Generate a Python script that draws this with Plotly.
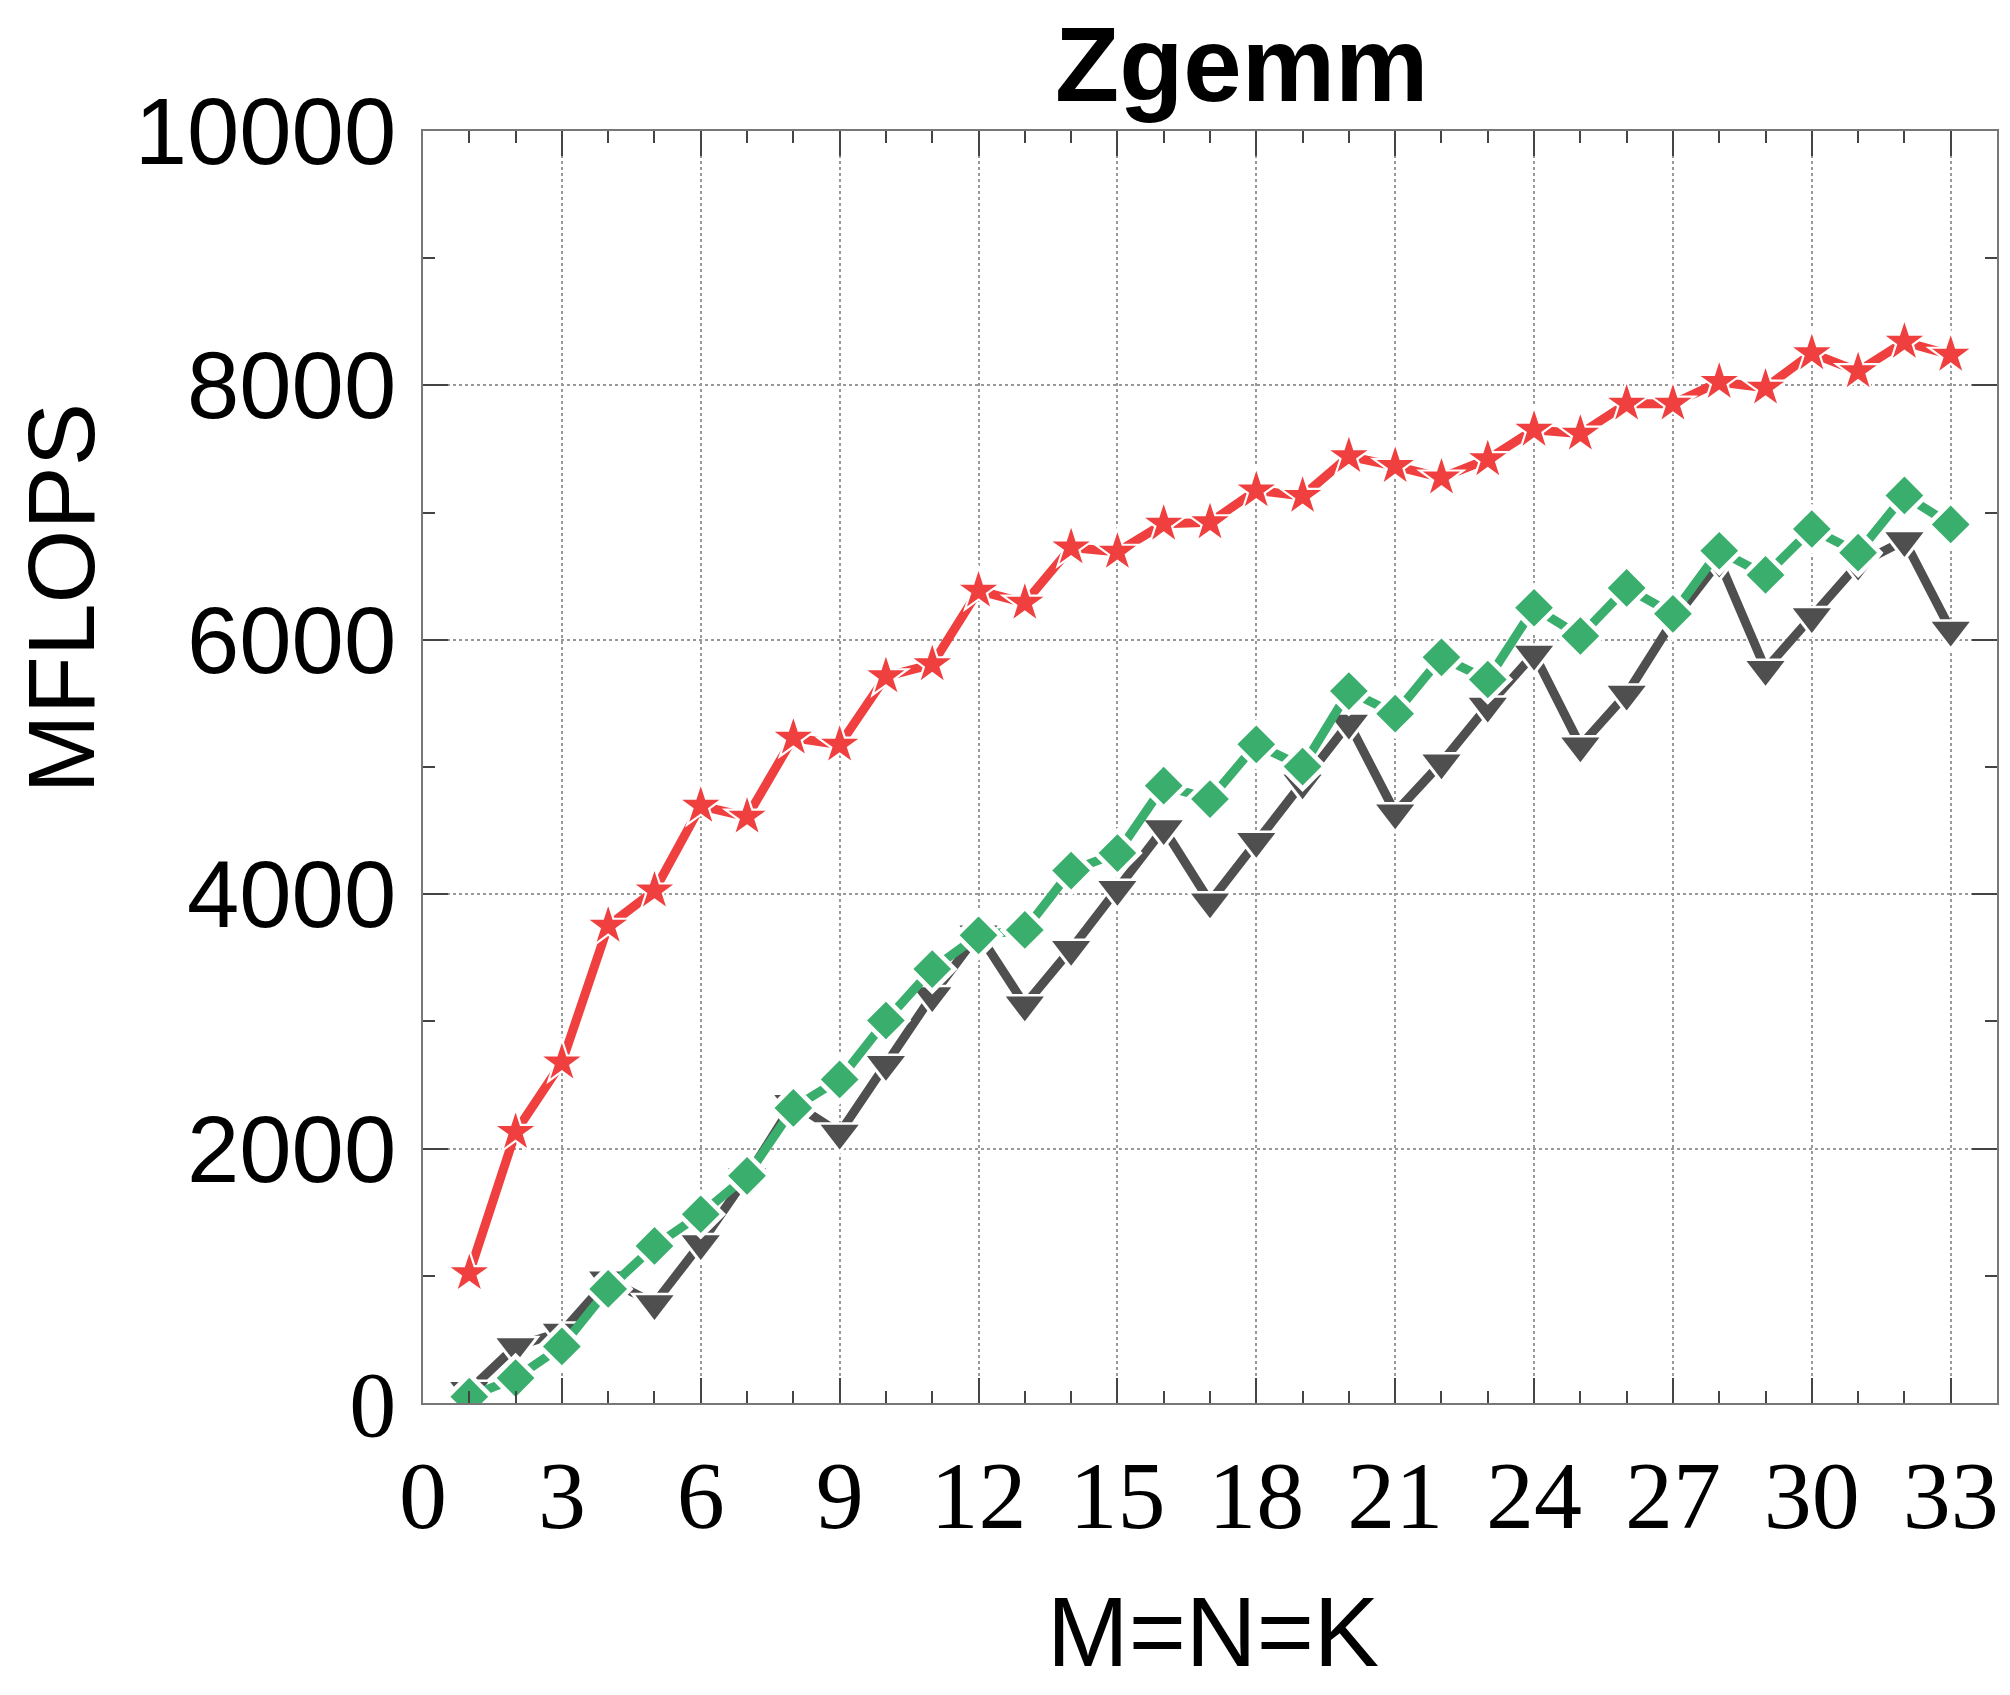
import plotly.graph_objects as go

# ---- data ----
sizes = list(range(1, 34))

red_star = [1020, 2130, 2676, 3751, 4028, 4694, 4609, 5230, 5175, 5712, 5807,
            6386, 6291, 6726, 6691, 6912, 6923, 7174, 7131, 7443, 7366, 7275,
            7419, 7651, 7620, 7856, 7856, 8027, 7982, 8252, 8111, 8342, 8240]

gray_triangle = [100, 445, 559, 968, 783, 1253, 1780, 2356, 2123, 2663, 3203,
                 3690, 3130, 3568, 4039, 4516, 3940, 4416, 4876, 5346, 4641, 5034,
                 5480, 5889, 5168, 5574, 6150, 6620, 5769, 6183, 6595, 6781, 6078]

green_diamond = [50, 196, 445, 897, 1235, 1484, 1786, 2320, 2544, 3007, 3411,
                 3677, 3719, 4186, 4323, 4853, 4748, 5178, 5003, 5597, 5419, 5862,
                 5688, 6252, 6030, 6408, 6204, 6700, 6510, 6871, 6685, 7135, 6907]

x_ticks = list(range(0, 34, 3))
y_ticks = [0, 2000, 4000, 6000, 8000, 10000]
y_ticktext = ['<span style="font-family:Liberation Serif">0</span>',
              "2000", "4000", "6000", "8000", "10000"]

title_text = "Zgemm"
x_title = "M=N=K"
y_title = "MFLOPS"

RED = "#EF3F3F"
GREEN = "#3AAE6D"
GRAY = "#4F4F4F"

fig = go.Figure()

series = [
    (red_star, RED, "star", 28),
    (gray_triangle, GRAY, "triangle-down", 33),
    (green_diamond, GREEN, "diamond", 29),
]
for values, color, symbol, msize in series:
    # connecting line
    fig.add_trace(go.Scatter(x=sizes, y=values, mode="lines",
                             line=dict(color=color, width=9), showlegend=False,
                             hoverinfo="skip"))
    # white halo that opens a gap in the line around each marker
    fig.add_trace(go.Scatter(x=sizes, y=values, mode="markers",
                             marker=dict(symbol=symbol, size=msize + 10, color="white"),
                             showlegend=False, hoverinfo="skip"))
    # the marker itself
    fig.add_trace(go.Scatter(x=sizes, y=values, mode="markers",
                             marker=dict(symbol=symbol, size=msize, color=color),
                             showlegend=False))

axis_common = dict(
    showline=True, linecolor="#777777", linewidth=2, mirror="ticks",
    ticks="inside", tickcolor="#444444", tickwidth=2, ticklen=25,
    showgrid=True, gridcolor="#999999", gridwidth=2, griddash="dot",
    zeroline=False,
)

fig.update_xaxes(
    **axis_common,
    range=[0, 34], tickmode="array", tickvals=x_ticks,
    tickfont=dict(family="Liberation Serif", size=96, color="black"),
    ticklabelstandoff=8,
    minor=dict(dtick=1, tick0=0, ticks="inside", ticklen=12, tickcolor="#444444",
               tickwidth=2, showgrid=False),
)

fig.update_yaxes(
    **axis_common,
    range=[0, 10000], tickmode="array", tickvals=y_ticks, ticktext=y_ticktext,
    tickfont=dict(family="Liberation Sans", size=94, color="black"),
    ticklabelstandoff=6,
    minor=dict(dtick=1000, tick0=0, ticks="inside", ticklen=12, tickcolor="#444444",
               tickwidth=2, showgrid=False),
)

# plot area in pixels
L, R, T, B = 423, 2010 - 11, 131, 1695 - 292
pw, ph = R - L, B - T
def px_to_paper(px, py):
    return (px - L) / pw, (B - py) / ph

tx, ty = px_to_paper(1243, 64)
xx, xy = px_to_paper(1214, 1632)
yx, yy = px_to_paper(61, 598)

fig.update_layout(
    width=2010, height=1695,
    margin=dict(l=L, r=11, t=T, b=292),
    paper_bgcolor="white", plot_bgcolor="white",
    annotations=[
        dict(text="<b>" + title_text + "</b>", x=tx, y=ty, xref="paper", yref="paper",
             showarrow=False, font=dict(family="Liberation Sans", size=105, color="black"),
             xanchor="center", yanchor="middle"),
        dict(text=x_title, x=xx, y=xy, xref="paper", yref="paper",
             showarrow=False, font=dict(family="Liberation Sans", size=98, color="black"),
             xanchor="center", yanchor="middle"),
        dict(text=y_title, x=yx, y=yy, xref="paper", yref="paper",
             showarrow=False, textangle=-90,
             font=dict(family="Liberation Sans", size=95, color="black"),
             xanchor="center", yanchor="middle"),
    ],
)

fig.write_html("out.html")
